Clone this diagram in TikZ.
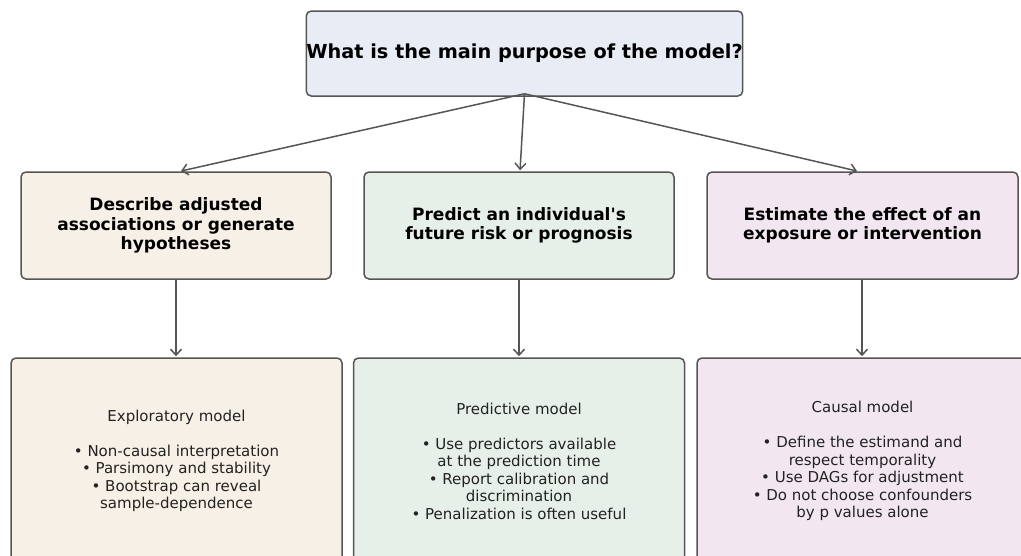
\documentclass[tikz,border=0pt]{standalone}
\usepackage{fontspec}
\setmainfont{DejaVu Sans}[Ligatures=TeXOff]
\usetikzlibrary{arrows.meta}
\definecolor{edgegray}{HTML}{555555}
\definecolor{qfill}{HTML}{E8ECF5}
\definecolor{expfill}{HTML}{F7F0E7}
\definecolor{predfill}{HTML}{E7F0E8}
\definecolor{causfill}{HTML}{F2E7F0}
\definecolor{bodytext}{HTML}{222222}
\tikzset{
  box/.style={draw=edgegray, line width=1.5pt, rounded corners=5pt, align=center, inner sep=0pt},
  question/.style={box, fill=qfill, minimum width=435pt, minimum height=85pt,
    font=\bfseries\fontsize{19.3}{22}\selectfont},
  purpose/.style={box, minimum width=310pt, minimum height=107pt,
    font=\bfseries\fontsize{17}{19.3}\selectfont},
  modelbox/.style={box, minimum width=331pt, minimum height=206pt, text=bodytext,
    font=\fontsize{15}{17.5}\selectfont},
  link/.style={draw=edgegray, line width=1.5pt, -{Straight Barb[length=6pt,width=11pt]}, shorten >=1pt}
}
\begin{document}
\begin{tikzpicture}[x=1pt,y=-1pt]
  \useasboundingbox (0,0) rectangle (1021,555);
  \clip (0,0) rectangle (1021,555);

  % question at the top
  \node[question] (q) at (524.5,53.5) {What is the main purpose of the model?};

  % purposes
  \node[purpose, fill=expfill]  (pe) at (176,225.5) {Describe adjusted\\associations or generate\\hypotheses};
  \node[purpose, fill=predfill] (pp) at (519,225.5) {Predict an individual's\\future risk or prognosis};
  \node[purpose, fill=causfill, minimum width=311pt] (pc) at (862.5,225.5) {Estimate the effect of an\\exposure or intervention};

  % resulting model types
  \node[modelbox, fill=expfill]  (me) at (176.5,461) {Exploratory model\\[17.5pt]
    • Non-causal interpretation\\• Parsimony and stability\\• Bootstrap can reveal\\sample-dependence};
  \node[modelbox, fill=predfill] (mp) at (519,461) {Predictive model\\[17.5pt]
    • Use predictors available\\at the prediction time\\• Report calibration and\\discrimination\\• Penalization is often useful};
  \node[modelbox, fill=causfill] (mc) at (862.5,461) {Causal model\\[17.5pt]
    • Define the estimand and\\respect temporality\\• Use DAGs for adjustment\\• Do not choose confounders\\by p values alone};

  % connectors
  \coordinate (qs) at ([yshift=3pt]q.south);
  \draw[link] (qs) -- ([xshift=4pt]pe.north);
  \draw[link] (qs) -- ([xshift=1pt]pp.north);
  \draw[link] (qs) -- ([xshift=-4.5pt]pc.north);

  \draw[link] (pe.south) -- (pe.south |- me.north);
  \draw[link] (pp.south) -- (pp.south |- mp.north);
  \coordinate (pcs) at ([xshift=-0.5pt]pc.south);
  \draw[link] (pcs) -- (pcs |- mc.north);
\end{tikzpicture}
\end{document}
